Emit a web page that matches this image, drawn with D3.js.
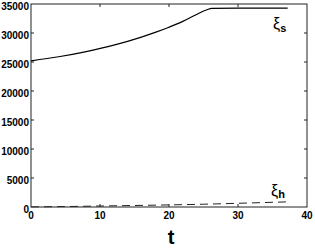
<!DOCTYPE html>
<html>
<head>
<meta charset="utf-8">
<script src="https://cdn.jsdelivr.net/npm/d3@7"></script>
<style>
  body { margin: 0; background: #fff; }
  text { font-family: "Liberation Sans", Arial, sans-serif; }
</style>
</head>
<body>
<svg id="chart" width="315" height="249"></svg>
<script>
// values
const tS = [0, 4, 8, 12, 16, 18, 20, 22, 24, 25.5, 26.2, 30, 34, 37.2];
const xiS = [25200, 25900, 26800, 27900, 29300, 30100, 31000, 32000, 33200, 34000, 34250, 34300, 34300, 34300];
const tH = [0, 5, 10, 15, 20, 25, 30, 37];
const xiH = [20, 80, 170, 260, 360, 480, 640, 880];
const xTicks = [0, 10, 20, 30, 40];
const yTicks = [0, 5000, 10000, 15000, 20000, 25000, 30000, 35000];

const plotL = 31, plotR = 307, plotT = 4, plotB = 207;
const svg = d3.select("#chart");

const x = d3.scaleLinear().domain([0, 40]).range([plotL, plotR]);
const y = d3.scaleLinear().domain([0, 35000]).range([plotB, plotT]);

// frame
svg.append("rect")
  .attr("x", plotL).attr("y", plotT)
  .attr("width", plotR - plotL).attr("height", plotB - plotT)
  .attr("fill", "none").attr("stroke", "#222").attr("stroke-width", 1);

const tickLen = 3;
// ticks on all four sides, pointing in
svg.selectAll(".xt")
  .data(xTicks.slice(1, -1))
  .enter()
  .append("path")
  .attr("d", (d) => `M${x(d)},${plotB}v${-tickLen}M${x(d)},${plotT}v${tickLen}`)
  .attr("stroke", "#222");

svg.selectAll(".yt")
  .data(yTicks.slice(1, -1))
  .enter()
  .append("path")
  .attr("d", (d) => `M${plotL},${y(d)}h${tickLen}M${plotR},${y(d)}h${-tickLen}`)
  .attr("stroke", "#222");

svg.selectAll(".xl")
  .data(xTicks)
  .enter()
  .append("text")
  .attr("x", (d) => x(d))
  .attr("y", 219)
  .attr("text-anchor", "middle")
  .attr("font-size", 10)
  .attr("font-weight", "bold")
  .text((d) => d);

svg.selectAll(".yl")
  .data(yTicks)
  .enter()
  .append("text")
  .attr("x", 29)
  .attr("y", (d) => y(d) + 6)
  .attr("text-anchor", "end")
  .attr("font-size", 10)
  .attr("font-weight", "bold")
  .text((d) => d);

const line = d3.line().curve(d3.curveMonotoneX);

svg.append("path")
  .attr("d", line(tS.map((t, i) => [x(t), y(xiS[i])])))
  .attr("fill", "none")
  .attr("stroke", "#000")
  .attr("stroke-width", 1.2);

svg.append("path")
  .attr("d", line(tH.map((t, i) => [x(t), y(xiH[i])])))
  .attr("fill", "none")
  .attr("stroke", "#222")
  .attr("stroke-width", 1)
  .attr("stroke-dasharray", "8,5");

// curve labels
const labS = svg.append("text").attr("x", 273).attr("y", 29).attr("font-size", 16);
labS.append("tspan").text("ξ");
labS.append("tspan").attr("dy", 3).attr("font-size", 11).attr("font-weight", "bold").text("s");

const labH = svg.append("text").attr("x", 271).attr("y", 196).attr("font-size", 16);
labH.append("tspan").text("ξ");
labH.append("tspan").attr("dy", 2).attr("font-size", 11).attr("font-weight", "bold").text("h");

svg.append("text")
  .attr("x", 171)
  .attr("y", 244)
  .attr("text-anchor", "middle")
  .attr("font-size", 20)
  .attr("font-weight", "bold")
  .text("t");
</script>
</body>
</html>
